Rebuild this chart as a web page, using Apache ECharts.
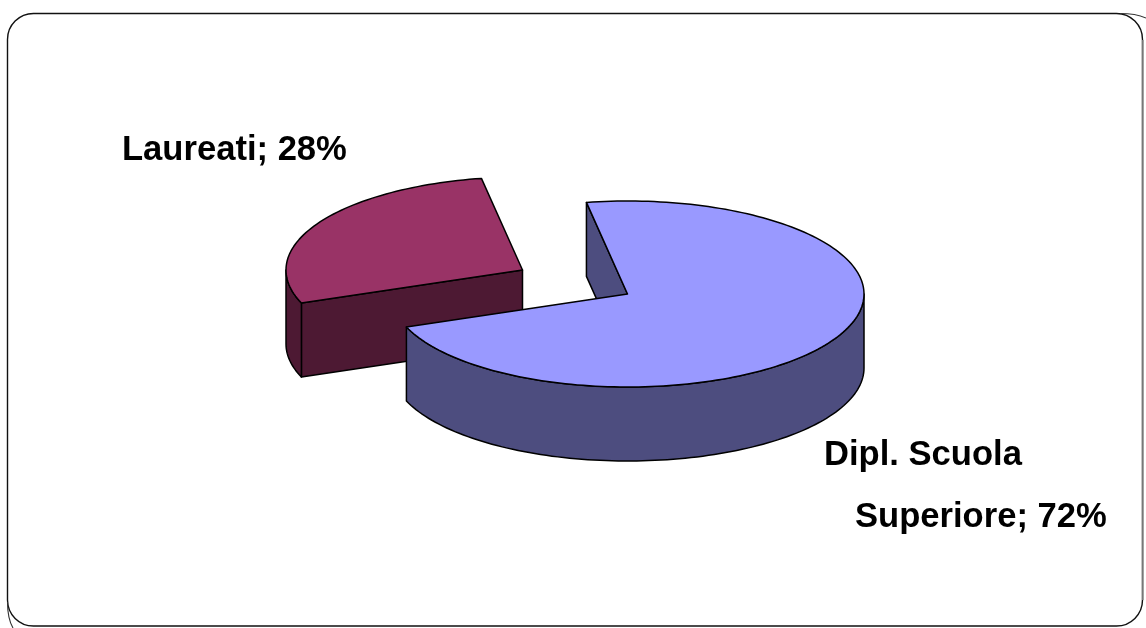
<!DOCTYPE html>
<html>
<head>
<meta charset="utf-8">
<style>html,body{margin:0;padding:0;background:#fff}#chart{width:1146px;height:628px}</style>
<script src="https://cdn.jsdelivr.net/npm/echarts@6/dist/echarts.min.js"></script>
</head>
<body>
<div id="chart"></div>
<script>
// Share of graduates by qualification, drawn as an exploded 3D pie.
const categories = ['Dipl. Scuola Superiore', 'Laureati'];
const shares = [72, 28];
const labelBreaks = [12, null];            // where a long category name wraps
const topColors = ['#9999FF', '#993366'];
const sideColors = ['#4D4D7F', '#4D1933'];

// Pie projection
const FIRST_ANGLE = 350;                   // degrees clockwise from twelve o'clock
const RX = 236.5, RY = 93, DEPTH = 74;
const CENTER = [627.5, 294];
const EXPLODE = [[0, 0], [-105, -24]];
const LABEL_ANCHORS = [[[824, 473], [855, 535]], [[122, 168]]];
const FONT = 'bold 34.6px "Liberation Sans", Arial, sans-serif';

const total = shares.reduce((a, b) => a + b, 0);
const rad = d => d * Math.PI / 180;

function rim(cx, cy, from, to, dy) {
  const pts = [];
  const n = Math.max(2, Math.ceil(Math.abs(to - from) / 1.5));
  for (let i = 0; i <= n; i++) {
    const a = rad(from + (to - from) * i / n);
    pts.push([cx + RX * Math.sin(a), cy - RY * Math.cos(a) + dy]);
  }
  return pts;
}

function poly(points, fill, z2) {
  return {
    type: 'polygon', z2,
    shape: { points },
    style: { fill, stroke: '#000', lineWidth: 1.5, lineJoin: 'round' }
  };
}

function renderSlice(params, api) {
  const i = params.dataIndex;
  const before = shares.slice(0, i).reduce((a, b) => a + b, 0);
  const from = FIRST_ANGLE + 360 * before / total;
  const to = from + 360 * api.value(1) / total;
  const cx = CENTER[0] + EXPLODE[i][0];
  const cy = CENTER[1] + EXPLODE[i][1];
  const base = i === 0 ? 20 : 10;          // the small slice sits behind the large one
  const top = rim(cx, cy, from, to, 0);
  const first = top[0];
  const children = [];

  // Cut face on the trailing radius, visible when it turns toward the viewer
  children.push(poly([first, [cx, cy], [cx, cy + DEPTH], [first[0], first[1] + DEPTH]], sideColors[i], base));

  // Outer wall: only the arc below the horizontal diameter faces the viewer
  let a0 = from, a1 = to;
  const norm = d => ((d % 360) + 360) % 360;
  if (norm(a0) < 90 || norm(a0) > 270) a0 = from + norm(90 - from);
  if (norm(a1) < 90 || norm(a1) > 270) a1 = to - norm(to - 270);
  if (a1 > a0) {
    const up = rim(cx, cy, a0, a1, 0);
    const down = rim(cx, cy, a0, a1, DEPTH).reverse();
    children.push(poly(up.concat(down), sideColors[i], base + 1));
  }

  // Top surface
  children.push(poly([[cx, cy]].concat(top), topColors[i], base + 2));

  // Data label: "category; share%", wrapped where requested
  const text = categories[i] + '; ' + api.value(1) + '%';
  const lines = labelBreaks[i] === null ? [text] : [text.slice(0, labelBreaks[i]), text.slice(labelBreaks[i] + 1)];
  lines.forEach((line, k) => {
    const pos = LABEL_ANCHORS[i][k];
    children.push({
      type: 'text', z2: 40,
      style: { text: line, x: pos[0], y: pos[1], font: FONT, fill: '#000', textAlign: 'left', textVerticalAlign: 'bottom' }
    });
  });
  return { type: 'group', children };
}

const chart = echarts.init(document.getElementById('chart'), null, { renderer: 'canvas' });
chart.setOption({
  animation: false,
  backgroundColor: '#fff',
  graphic: [
    { type: 'rect', silent: true, z: 0,
      shape: { x: 7.5, y: 13.5, width: 1135, height: 612.5, r: 26 },
      style: { fill: 'none', stroke: '#111', lineWidth: 1.4 } },
    { type: 'line', silent: true, z: 1,
      shape: { x1: 1142.7, y1: 40, x2: 1142.7, y2: 600 },
      style: { stroke: '#777', lineWidth: 1.6 } },
    { type: 'bezierCurve', silent: true, z: 1,
      shape: { x1: 1120, y1: 13.5, cpx1: 1130, cpy1: 13.5, cpx2: 1138, cpy2: 14.5, x2: 1146, y2: 18 },
      style: { fill: 'none', stroke: '#333', lineWidth: 1.1 } },
    { type: 'bezierCurve', silent: true, z: 1,
      shape: { x1: 7.5, y1: 602, cpx1: 7.5, cpy1: 612, cpx2: 9, cpy2: 621, x2: 13, y2: 628 },
      style: { fill: 'none', stroke: '#333', lineWidth: 1.1 } }
  ],
  series: [{
    type: 'custom',
    coordinateSystem: 'none',
    renderItem: renderSlice,
    data: categories.map((c, i) => [i, shares[i]])
  }]
});
</script>
</body>
</html>
